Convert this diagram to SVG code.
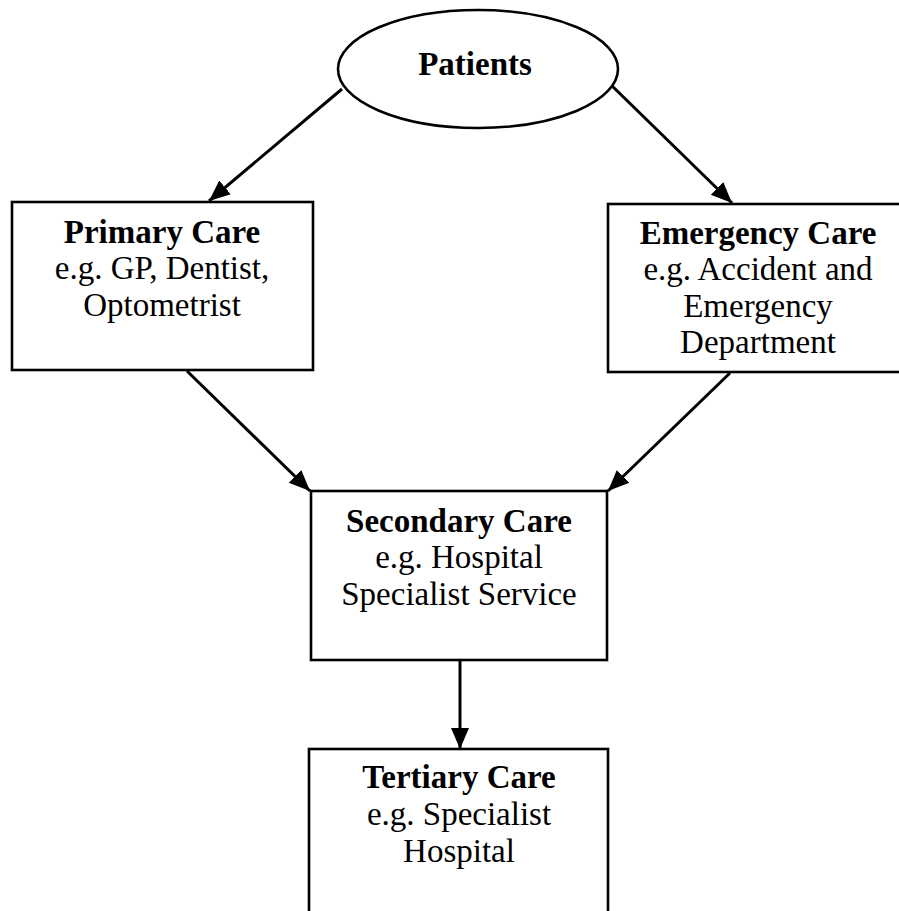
<svg xmlns="http://www.w3.org/2000/svg" width="899" height="911" viewBox="0 0 899 911">
<defs>
<style>
.box{fill:#fff;stroke:#000;stroke-width:2.6}
.t{font-family:"Liberation Serif","Times New Roman",serif;font-size:33px;fill:#000;text-anchor:middle}
.b{font-weight:bold}
.c{stroke:#000;stroke-width:3;fill:none;marker-end:url(#ah)}
</style>
<marker id="ah" markerUnits="userSpaceOnUse" markerWidth="22" markerHeight="22" viewBox="0 0 22 22" refX="21" refY="11" orient="auto">
<path d="M0,2 L21,11 L0,20 Z" fill="#000"/>
</marker>
</defs>
<rect width="899" height="911" fill="#fff"/>
<g id="connectors">
<line class="c" x1="342" y1="89" x2="209" y2="201"/>
<line class="c" x1="608" y1="82" x2="732" y2="203"/>
<line class="c" x1="187" y1="371" x2="310" y2="491"/>
<line class="c" x1="730" y1="373" x2="608" y2="491"/>
<line class="c" x1="460" y1="660" x2="460" y2="749"/>
</g>
<g id="patients">
<ellipse cx="478" cy="69" rx="140" ry="59" class="box"/>
<text class="t b" x="475" y="75">Patients</text>
</g>
<g id="primary">
<rect class="box" x="12" y="202" width="301" height="168"/>
<text class="t b" x="162" y="243">Primary Care</text>
<text class="t" x="162" y="279">e.g. GP, Dentist,</text>
<text class="t" x="162" y="316">Optometrist</text>
</g>
<g id="emergency">
<rect class="box" x="608" y="204" width="300" height="168"/>
<text class="t b" x="758" y="244">Emergency Care</text>
<text class="t" x="758" y="280">e.g. Accident and</text>
<text class="t" x="758" y="317">Emergency</text>
<text class="t" x="758" y="353">Department</text>
</g>
<g id="secondary">
<rect class="box" x="311" y="491" width="296" height="169"/>
<text class="t b" x="459" y="532">Secondary Care</text>
<text class="t" x="459" y="568">e.g. Hospital</text>
<text class="t" x="459" y="605">Specialist Service</text>
</g>
<g id="tertiary">
<rect class="box" x="309" y="749" width="299" height="200"/>
<text class="t b" x="459" y="788">Tertiary Care</text>
<text class="t" x="459" y="825">e.g. Specialist</text>
<text class="t" x="459" y="862">Hospital</text>
</g>
</svg>
